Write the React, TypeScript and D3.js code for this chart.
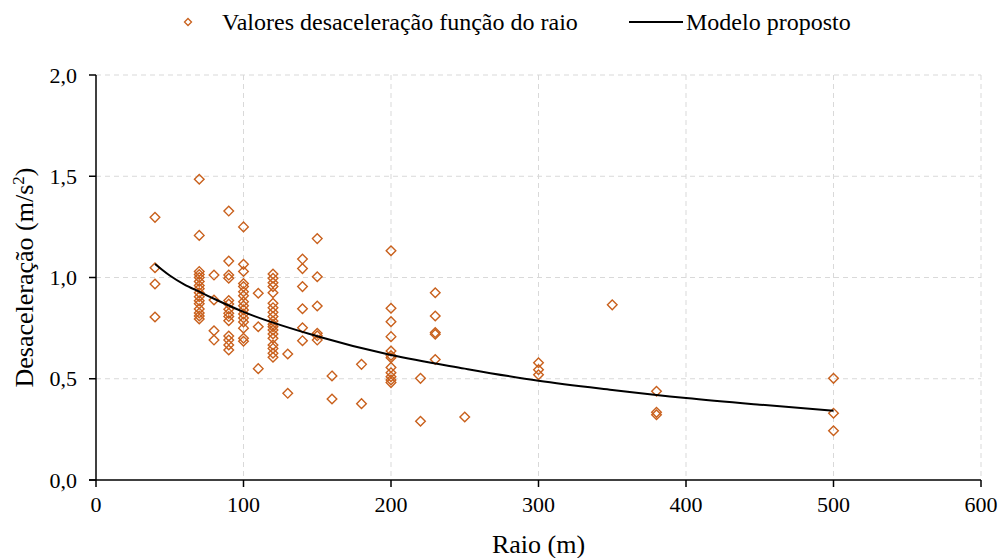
import React from "react";
import * as d3 from "d3";

// Measured deceleration grouped by curve radius (m)
const raios = [40, 70, 80, 90, 100, 110, 120, 130, 140, 150, 160, 180, 200, 220, 230, 250, 300, 350, 380, 500];
const desaceleracoes: number[][] = [
  [1.297, 1.048, 0.968, 0.805],
  [1.485, 1.208, 1.03, 1.015, 1.0, 0.98, 0.96, 0.945, 0.925, 0.905, 0.885, 0.87, 0.845, 0.825, 0.81, 0.795],
  [1.012, 0.889, 0.737, 0.691],
  [1.328, 1.081, 1.012, 0.996, 0.886, 0.869, 0.843, 0.823, 0.807, 0.787, 0.711, 0.691, 0.667, 0.642],
  [1.25, 1.065, 1.03, 0.97, 0.955, 0.93, 0.91, 0.88, 0.86, 0.84, 0.82, 0.8, 0.78, 0.75, 0.7, 0.685],
  [0.922, 0.757, 0.55],
  [1.017, 0.996, 0.974, 0.955, 0.925, 0.873, 0.851, 0.828, 0.807, 0.785, 0.769, 0.757, 0.741, 0.721, 0.7, 0.667, 0.65, 0.626, 0.606],
  [0.622, 0.428],
  [1.091, 1.044, 0.955, 0.846, 0.752, 0.688],
  [1.192, 1.004, 0.859, 0.725, 0.712, 0.691],
  [0.514, 0.4],
  [0.571, 0.377],
  [1.132, 0.848, 0.782, 0.708, 0.637, 0.615, 0.604, 0.556, 0.53, 0.51, 0.494, 0.481],
  [0.502, 0.29],
  [0.925, 0.81, 0.728, 0.72, 0.595],
  [0.311],
  [0.579, 0.545, 0.52],
  [0.865],
  [0.438, 0.334, 0.322],
  [0.502, 0.33, 0.243],
];

// Proposed model curve, sampled along the radius range
const modeloRaio = [40, 50, 60, 70, 80, 100, 150, 200, 250, 300, 350, 400, 450, 500];
const modeloDesac = [1.067, 1.01, 0.965, 0.93, 0.895, 0.83, 0.71, 0.617, 0.55, 0.49, 0.445, 0.405, 0.372, 0.342];

const xTicks = [0, 100, 200, 300, 400, 500, 600];
const yTicks = [0, 0.5, 1.0, 1.5, 2.0];

const W = 1003;
const H = 558;
const M = { left: 96, right: 22, top: 75, bottom: 78 };
const FONT = "Liberation Serif, Tinos, Times New Roman, Times, DejaVu Serif, serif";
const ORANGE = "#c9601c";

export default function App() {
  const x = d3.scaleLinear().domain([0, 600]).range([M.left, W - M.right]);
  const y = d3.scaleLinear().domain([0, 2]).range([H - M.bottom, M.top]);
  const fmt = (v: number) => v.toFixed(1).replace(".", ",");

  const pontos = raios.flatMap((r, i) => desaceleracoes[i].map((d) => ({ r, d })));
  const linha = d3
    .line<number>()
    .x((_, i) => x(modeloRaio[i]))
    .y((v) => y(v))
    .curve(d3.curveMonotoneX)(modeloDesac) as string;

  const diamond = (cx: number, cy: number, s: number) =>
    `M${cx},${cy - s}L${cx + s},${cy}L${cx},${cy + s}L${cx - s},${cy}Z`;

  const y0 = y(0);
  const x0 = x(0);
  const txt = { fontFamily: FONT };

  return (
    <svg
      width={W}
      height={H}
      style={{ position: "absolute", left: 0, top: 0, background: "#fff", fontFamily: FONT }}
    >
      {/* gridlines */}
      {yTicks.filter((t) => t > 0).map((t) => (
        <line key={"gy" + t} x1={x0} x2={x(600)} y1={y(t)} y2={y(t)} stroke="#d9d9d9" strokeDasharray="5,4" strokeWidth={1} />
      ))}
      {xTicks.filter((t) => t > 0).map((t) => (
        <line key={"gx" + t} x1={x(t)} x2={x(t)} y1={y(2)} y2={y0} stroke="#d9d9d9" strokeDasharray="5,4" strokeWidth={1} />
      ))}

      {/* axes */}
      <line x1={x0} x2={x0} y1={y(2)} y2={y0} stroke="#000" strokeWidth={1.5} />
      <line x1={x0 - 7} x2={x(600)} y1={y0} y2={y0} stroke="#000" strokeWidth={1.5} />
      {yTicks.map((t) => (
        <g key={"ty" + t}>
          <line x1={x0 - 7} x2={x0} y1={y(t)} y2={y(t)} stroke="#000" strokeWidth={1.5} />
          <text x={x0 - 19} y={y(t)} dy="0.35em" textAnchor="end" fontSize={22} style={txt}>
            {fmt(t)}
          </text>
        </g>
      ))}
      {xTicks.map((t) => (
        <g key={"tx" + t}>
          <line x1={x(t)} x2={x(t)} y1={y0} y2={y0 + 7} stroke="#000" strokeWidth={1.5} />
          <text x={x(t)} y={y0 + 32} textAnchor="middle" fontSize={22} style={txt}>
            {t}
          </text>
        </g>
      ))}

      {/* axis titles */}
      <text x={(x0 + x(600)) / 2} y={553} textAnchor="middle" fontSize={26} style={txt}>
        Raio (m)
      </text>
      <text
        transform={`translate(33,${(y(0) + y(2)) / 2}) rotate(-90)`}
        textAnchor="middle"
        fontSize={26}
        style={txt}
      >
        Desaceleração (m/s<tspan baselineShift="super" fontSize={17}>2</tspan>)
      </text>

      {/* data points */}
      {pontos.map((p, i) => (
        <path key={i} d={diamond(x(p.r), y(p.d), 4.8)} fill="none" stroke={ORANGE} strokeWidth={1.4} />
      ))}

      {/* model curve */}
      <path d={linha} fill="none" stroke="#000" strokeWidth={2} />

      {/* legend */}
      <path d={diamond(188, 22, 3.5)} fill="none" stroke={ORANGE} strokeWidth={1.3} />
      <text x={222} y={30} fontSize={24} style={txt}>
        Valores desaceleração função do raio
      </text>
      <line x1={629} x2={683} y1={22} y2={22} stroke="#000" strokeWidth={2} />
      <text x={686} y={30} fontSize={24} style={txt}>
        Modelo proposto
      </text>
    </svg>
  );
}
